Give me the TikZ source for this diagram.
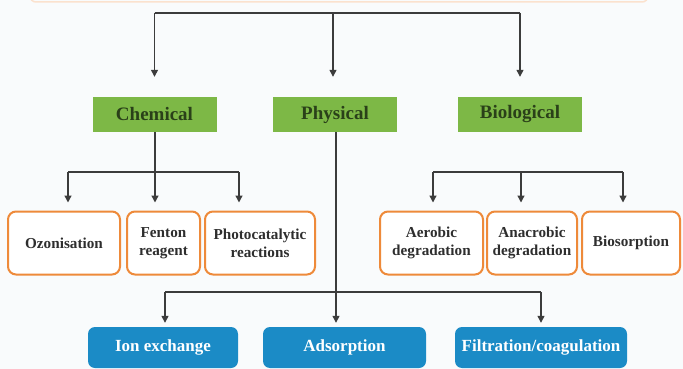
\documentclass[tikz,border=0pt]{standalone}
\usepackage{fontspec}
\setmainfont{Liberation Serif}
\usetikzlibrary{arrows.meta}
\definecolor{bg}{HTML}{F9FBFC}
\definecolor{grn}{HTML}{7DB846}
\definecolor{grntxt}{HTML}{2A4019}
\definecolor{org}{HTML}{EE8A3A}
\definecolor{orgtxt}{HTML}{2E2E2E}
\definecolor{blu}{HTML}{1B8BC6}
\definecolor{ln}{HTML}{3C3C3C}
\tikzset{
  greenbox/.style={fill=grn, draw=none, minimum width=124pt, minimum height=35pt, inner sep=0pt,
    text=grntxt, font=\fontsize{19}{22}\selectfont\bfseries},
  orangebox/.style={draw=org, line width=2pt, rounded corners=8pt, fill=white, minimum height=63pt,
    inner sep=0pt, align=center, text=orgtxt, font=\fontsize{15.2}{18}\selectfont\bfseries},
  bluebox/.style={fill=blu, draw=none, rounded corners=7pt, minimum height=41pt, inner sep=0pt,
    text=white, font=\fontsize{17}{20}\selectfont\bfseries},
  conn/.style={draw=ln, line width=1.3pt},
  arr/.style={draw=ln, line width=1.3pt, -{Triangle[length=7pt,width=7pt]}},
}
\begin{document}
\begin{tikzpicture}[x=1pt,y=-1pt]
\fill[bg] (0,0) rectangle (683,369);
\useasboundingbox (0,0) rectangle (683,369);
\clip (0,0) rectangle (683,369);

% cut-off top box
\node[draw=org!25, line width=1.5pt, rounded corners=6pt, minimum width=618pt, minimum height=30pt] (topbox) at (339,-13) {};

% level 1
\node[greenbox] (chem) at (154.5,114.5) {Chemical};
\node[greenbox] (phys) at (335,114.5) {Physical};
\node[greenbox] (bio)  at (520,114.5) {Biological};

\coordinate (hub) at (333,13);
\draw[conn] (chem.north |- hub) -- (bio.north |- hub);
\draw[arr, shorten >=20pt] (chem.north |- hub) -- (chem.north);
\draw[arr, shorten >=20pt] (hub) -- (hub |- phys.north);
\draw[arr, shorten >=20pt] (bio.north |- hub) -- (bio.north);

% chemical branch
\node[orangebox, minimum width=112pt] (ozo) at (64,243) {Ozonisation};
\node[orangebox, minimum width=73pt] (fen) at (163.5,243) {Fenton\\reagent};
\node[orangebox, minimum width=110pt] (pho) at (260,243) {Photocatalytic\\reactions};

\coordinate (cbar) at (155,172);
\coordinate (c1) at (68,172);
\coordinate (c3) at (239,172);
\draw[conn] (chem.south -| cbar) -- (cbar);
\draw[conn] (c1) -- (c3);
\draw[arr, shorten >=8pt] (c1) -- (c1 |- ozo.north);
\draw[arr, shorten >=8pt] (cbar) -- (cbar |- fen.north);
\draw[arr, shorten >=8pt] (c3) -- (c3 |- pho.north);

% biological branch
\node[orangebox, minimum width=103pt] (aer) at (431.5,243) {Aerobic\\degradation};
\node[orangebox, minimum width=90pt] (ana) at (532,243) {Anacrobic\\degradation};
\node[orangebox, minimum width=98pt] (bsp) at (631,243) {Biosorption};

\coordinate (b1) at (433,172);
\coordinate (b2) at (521,172);
\coordinate (b3) at (623,172);
\draw[conn] (b1) -- (b3);
\draw[arr, shorten >=8pt] (b1) -- (b1 |- aer.north);
\draw[arr, shorten >=8pt] (b2) -- (b2 |- ana.north);
\draw[arr, shorten >=8pt] (b3) -- (b3 |- bsp.north);

% physical branch
\node[bluebox, minimum width=150pt] (ion) at (163,347.5) {Ion exchange};
\node[bluebox, minimum width=163pt] (ads) at (344.5,347.5) {Adsorption};
\node[bluebox, minimum width=172pt] (fil) at (541,347.5) {Filtration/coagulation};

\coordinate (p2) at (336,292);
\coordinate (p1) at (165,292);
\coordinate (p3) at (541,292);
\draw[conn] (p1) -- (p3);
\draw[arr, shorten >=4pt] (phys.south -| p2) -- (p2 |- ads.north);
\draw[arr, shorten >=4pt] (p1) -- (p1 |- ion.north);
\draw[arr, shorten >=4pt] (p3) -- (p3 |- fil.north);
\end{tikzpicture}
\end{document}
